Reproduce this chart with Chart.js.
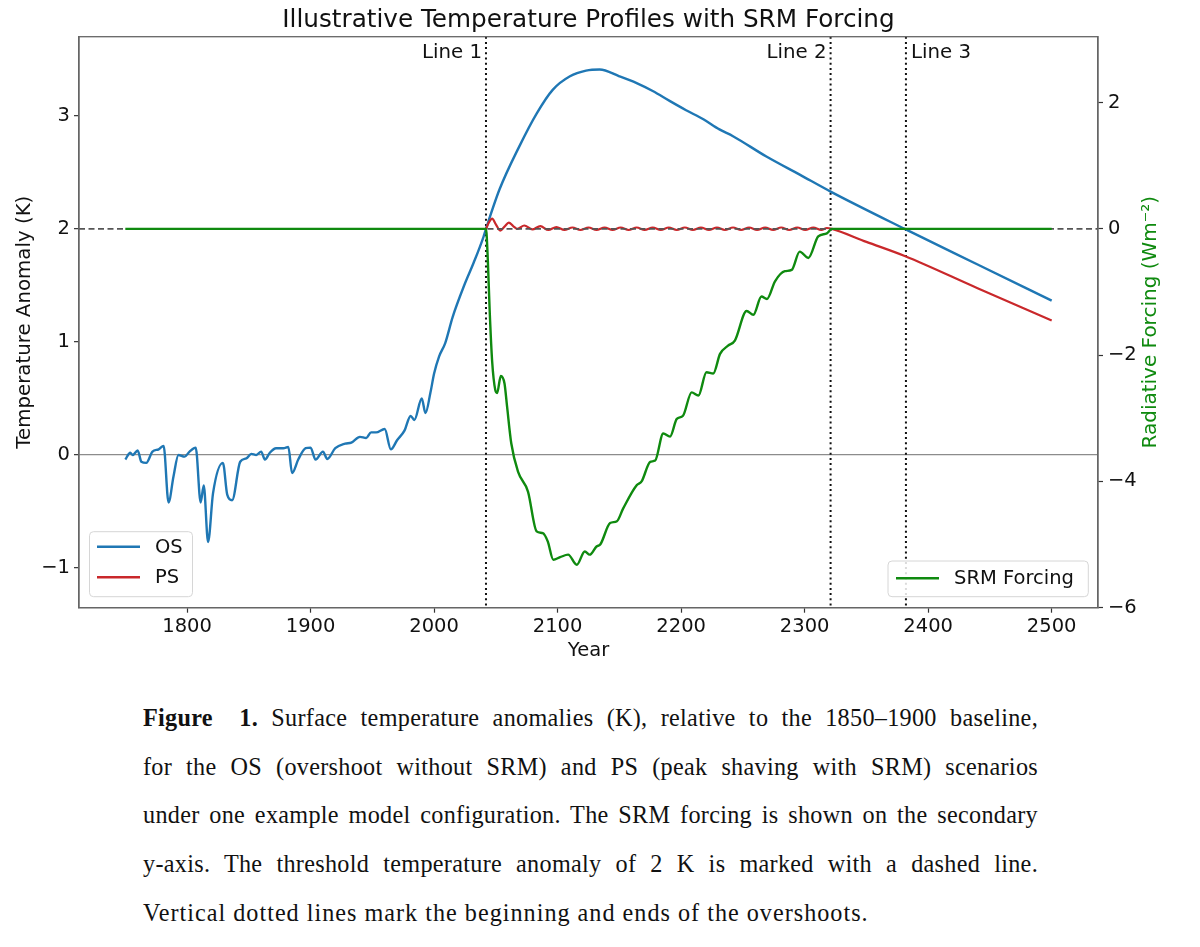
<!DOCTYPE html>
<html>
<head>
<meta charset="utf-8">
<script src="https://cdn.jsdelivr.net/npm/chart.js@4.4.0/dist/chart.umd.min.js"></script>
<style>
  html, body { margin: 0; padding: 0; background: #fff; }
  #wrap { position: absolute; left: 0; top: 0; width: 1200px; height: 680px; }
  #cap { position: absolute; left: 143px; top: 694px; width: 895px;
         font-family: "Liberation Serif", "Times New Roman", serif; font-size: 24.2px;
         letter-spacing: 0.3px; line-height: 48.7px; color: #111; }
  #cap div { text-align: justify; text-align-last: justify; }
  #cap div.last { text-align-last: left; letter-spacing: 1px; }
</style>
</head>
<body>
<div id="wrap"><canvas id="c"></canvas></div>
<div id="cap">
  <div><b>Figure&nbsp;&nbsp;1.</b> Surface temperature anomalies (K), relative to the 1850–1900 baseline,</div>
  <div>for the OS (overshoot without SRM) and PS (peak shaving with SRM) scenarios</div>
  <div>under one example model configuration. The SRM forcing is shown on the secondary</div>
  <div>y-axis. The threshold temperature anomaly of 2 K is marked with a dashed line.</div>
  <div class="last">Vertical dotted lines mark the beginning and ends of the overshoots.</div>
</div>
<script>
// ---------------- data ----------------
const xMin = 1712.5, xMax = 2537.5;
const yMin = -1.351, yMax = 3.70;
const rMin = -6, rMax = 3.044;
const threshold = 2;
const xTicks = [1800, 1900, 2000, 2100, 2200, 2300, 2400, 2500];
const yTicks = [-1, 0, 1, 2, 3];
const rTicks = [-6, -4, -2, 0, 2];

const osYears = [1750, 1754, 1756, 1760, 1763, 1767, 1772, 1777, 1781, 1785, 1789, 1793, 1798, 1802, 1807,
  1811, 1813.5, 1817, 1821, 1829, 1832.5, 1836.5, 1843, 1848, 1852, 1856, 1860, 1863, 1867, 1872, 1878,
  1882, 1885, 1890, 1896, 1900, 1904, 1910, 1913.5, 1920, 1928, 1933, 1940, 1945, 1949, 1953, 1960,
  1965, 1970, 1976, 1981, 1984, 1990, 1993, 1997, 2000, 2004, 2009, 2015, 2024, 2032, 2040, 2042,
  2053, 2069, 2083, 2096, 2110, 2123, 2134, 2150, 2164, 2177, 2191, 2204, 2218, 2231, 2242, 2269,
  2296, 2321, 2381, 2440, 2500];
const osValues = [-0.04, 0.02, 0.0, 0.04, -0.06, -0.07, 0.03, 0.05, 0.08, -0.42, -0.19, 0.0, -0.015, 0.03, 0.065,
  -0.42, -0.27, -0.77, -0.34, -0.07, -0.35, -0.40, -0.06, -0.03, 0.01, 0.0, 0.03, -0.04, 0.02, 0.06, 0.06,
  0.07, -0.16, -0.04, 0.06, 0.065, -0.04, 0.03, -0.035, 0.06, 0.10, 0.11, 0.16, 0.15, 0.20, 0.20, 0.23,
  0.05, 0.13, 0.215, 0.345, 0.31, 0.50, 0.37, 0.55, 0.72, 0.87, 0.99, 1.22, 1.49, 1.70, 1.93, 2.0,
  2.35, 2.73, 3.02, 3.23, 3.35, 3.40, 3.41, 3.35, 3.29, 3.22, 3.13, 3.05, 2.97, 2.88, 2.82, 2.64,
  2.48, 2.33, 2.0, 1.685, 1.365];

const psYears = [2042, 2044.5, 2047, 2050, 2053.5, 2057, 2060.5, 2064, 2067.5, 2073, 2079.5, 2086, 2092.5,
  2099, 2105.5, 2112, 2118.5, 2125, 2131.5, 2138, 2144.5, 2151, 2157.5, 2164, 2170.5, 2177, 2183.5,
  2190, 2196.5, 2203, 2209.5, 2216, 2222.5, 2229, 2235.5, 2242, 2248.5, 2255, 2261.5, 2268, 2274.5,
  2281, 2287.5, 2294, 2300.5, 2307, 2313.5, 2318, 2322, 2350, 2381, 2440, 2500];
const psValues = [2.00, 2.06, 2.09, 2.04, 1.985, 2.02, 2.055, 2.025, 2.0, 2.03, 1.995, 2.025, 1.99,
  2.015, 1.99, 2.012, 1.99, 2.012, 1.99, 2.012, 1.99, 2.012, 1.99, 2.012, 1.99, 2.012, 1.99,
  2.012, 1.99, 2.012, 1.99, 2.012, 1.99, 2.012, 1.99, 2.012, 1.99, 2.012, 1.99, 2.012, 1.99,
  2.012, 1.99, 2.012, 1.99, 2.012, 1.99, 2.008, 2.0, 1.885, 1.76, 1.475, 1.19];

const srmYears = [1750, 2042, 2043.5, 2045, 2047, 2049.5, 2051, 2054, 2057, 2059, 2062.5, 2068, 2076, 2083,
  2088, 2092, 2096.5, 2102, 2108.5, 2115.5, 2122, 2126, 2131.5, 2134.5, 2142.5, 2148, 2153, 2164, 2168,
  2175, 2179, 2185.5, 2191, 2196.5, 2201.5, 2208.5, 2214, 2220.5, 2226, 2231.5, 2238, 2243.5, 2253,
  2258.5, 2265, 2269.5, 2276, 2284, 2289.5, 2296, 2303, 2311, 2318, 2322, 2500];
const srmValues = [0, 0, -0.5, -1.3, -2.1, -2.55, -2.6, -2.33, -2.45, -2.8, -3.4, -3.85, -4.16, -4.79,
  -4.82, -4.95, -5.24, -5.2, -5.16, -5.32, -5.11, -5.16, -5.03, -5.0, -4.66, -4.63, -4.43, -4.06, -4.0,
  -3.69, -3.67, -3.24, -3.29, -3.01, -2.96, -2.59, -2.64, -2.27, -2.29, -1.98, -1.85, -1.77, -1.30,
  -1.36, -1.07, -1.11, -0.83, -0.67, -0.65, -0.36, -0.46, -0.12, -0.07, 0, 0];

const markerYears = [2042, 2321, 2382];
const markerLabels = ['Line 1', 'Line 2', 'Line 3'];

// ---------------- styling ----------------
const FONT = 'DejaVu Sans';
const C_OS = '#1f77b4', C_PS = '#c9282b', C_SRM = '#0f8a0f';
const toPts = (xs, ys) => xs.map((x, i) => ({ x: x, y: ys[i] }));
const minus = v => String(v).replace('-', '\u2212');

const overlay = {
  id: 'overlay',
  beforeDatasetsDraw(chart) {
    const { ctx, chartArea: a, scales } = chart;
    ctx.save();
    ctx.strokeStyle = '#111';
    ctx.lineWidth = 2;
    ctx.setLineDash([2, 3.2]);
    markerYears.forEach(yr => {
      const px = scales.x.getPixelForValue(yr);
      ctx.beginPath(); ctx.moveTo(px, a.top); ctx.lineTo(px, a.bottom); ctx.stroke();
    });
    ctx.restore();
  },
  afterDatasetsDraw(chart) {
    const { ctx, chartArea: a, scales } = chart;
    ctx.save();
    // frame
    ctx.strokeStyle = '#666'; ctx.lineWidth = 1.3; ctx.setLineDash([]);
    ctx.strokeRect(a.left, a.top, a.right - a.left, a.bottom - a.top);
    // marker labels
    ctx.font = '19.8px "' + FONT + '"';
    ctx.fillStyle = '#111';
    ctx.textBaseline = 'middle';
    markerYears.forEach((yr, i) => {
      const px = scales.x.getPixelForValue(yr);
      if (i < 2) { ctx.textAlign = 'right'; ctx.fillText(markerLabels[i], px - 4, a.top + 16.5); }
      else { ctx.textAlign = 'left'; ctx.fillText(markerLabels[i], px + 5, a.top + 16.5); }
    });
    // legends
    ctx.font = '19.5px "' + FONT + '"';
    const box = (x0, y0, x1, y1) => {
      ctx.beginPath();
      ctx.roundRect(x0, y0, x1 - x0, y1 - y0, 4);
      ctx.fillStyle = 'rgba(255,255,255,0.85)'; ctx.fill();
      ctx.strokeStyle = '#d6d6d6'; ctx.lineWidth = 1; ctx.stroke();
    };
    const entry = (x0, y, color, label) => {
      ctx.beginPath(); ctx.moveTo(x0, y); ctx.lineTo(x0 + 43, y);
      ctx.strokeStyle = color; ctx.lineWidth = 2.4; ctx.stroke();
      ctx.fillStyle = '#111'; ctx.textAlign = 'left'; ctx.textBaseline = 'middle';
      ctx.fillText(label, x0 + 58, y + 1);
    };
    box(a.left + 10.5, a.bottom - 76, a.left + 113.5, a.bottom - 11);
    entry(a.left + 18, a.bottom - 61, C_OS, 'OS');
    entry(a.left + 18, a.bottom - 30.5, C_PS, 'PS');
    box(a.right - 210, a.bottom - 46.7, a.right - 9.7, a.bottom - 11);
    entry(a.right - 202, a.bottom - 29.5, C_SRM, 'SRM Forcing');
    // right axis title
    ctx.translate(1151, (a.top + a.bottom) / 2);
    ctx.rotate(-Math.PI / 2);
    ctx.textAlign = 'center'; ctx.textBaseline = 'middle';
    ctx.fillStyle = C_SRM;
    ctx.font = '20px "' + FONT + '"';
    ctx.fillText('Radiative Forcing (Wm\u207B\u00B2)', 0, 0);
    ctx.restore();
  }
};

const tickFont = { family: FONT, size: 19.5 };

new Chart(document.getElementById('c'), {
  type: 'line',
  data: {
    datasets: [
      { label: 'OS', data: toPts(osYears, osValues), borderColor: C_OS, borderWidth: 2.4, yAxisID: 'y', order: 9 },
      { label: 'PS', data: toPts(psYears, psValues), borderColor: C_PS, borderWidth: 2.2, yAxisID: 'y', order: 8 },
      { label: 'threshold', data: [{ x: xMin, y: threshold }, { x: xMax, y: threshold }], borderColor: '#555',
        borderWidth: 1.6, borderDash: [6, 3.5], yAxisID: 'y', order: 7, cubicInterpolationMode: 'default', tension: 0 },
      { label: 'SRM Forcing', data: toPts(srmYears, srmValues), borderColor: C_SRM, borderWidth: 2.4, yAxisID: 'y2', order: 5 }
    ]
  },
  options: {
    responsive: true,
    maintainAspectRatio: false,
    animation: false,
    devicePixelRatio: 1,
    layout: { padding: 0 },
    elements: { point: { radius: 0 }, line: { cubicInterpolationMode: 'monotone', fill: false } },
    plugins: {
      legend: { display: false },
      tooltip: { enabled: false },
      title: { display: true, fullSize: false, text: 'Illustrative Temperature Profiles with SRM Forcing', color: '#111',
               font: { family: FONT, size: 24.7, weight: 'normal', lineHeight: 1 }, padding: { top: 8.5, bottom: 3.5 } }
    },
    scales: {
      x: {
        type: 'linear', position: 'bottom', min: xMin, max: xMax,
        afterBuildTicks: ax => { ax.ticks = xTicks.map(v => ({ value: v })); },
        afterFit: ax => { ax.height = 72.3; },
        ticks: { font: tickFont, color: '#111', padding: 3, maxRotation: 0, autoSkip: false, callback: v => String(v) },
        grid: { drawOnChartArea: false, tickLength: 5, tickColor: '#333', tickWidth: 1.2 },
        border: { display: true, color: '#666', width: 1.3 },
        title: { display: true, text: 'Year', color: '#111', font: { family: FONT, size: 19.5 }, padding: { top: 0, bottom: 17.5 } }
      },
      y: {
        type: 'linear', position: 'left', min: yMin, max: yMax,
        afterBuildTicks: ax => { ax.ticks = yTicks.map(v => ({ value: v })); },
        afterFit: ax => { ax.width = 79; },
        ticks: { font: tickFont, color: '#111', padding: 4, autoSkip: false, callback: v => minus(v) },
        grid: { drawOnChartArea: true, color: c => (c.tick && c.tick.value === 0) ? '#8c8c8c' : 'rgba(0,0,0,0)',
                lineWidth: 1.3, tickLength: 5, tickColor: '#333', tickWidth: 1.2 },
        border: { display: true, color: '#666', width: 1.3 },
        title: { display: true, text: 'Temperature Anomaly (K)', color: '#111', font: { family: FONT, size: 19.8 }, padding: { top: 13.3, bottom: 0 } }
      },
      y2: {
        type: 'linear', position: 'right', min: rMin, max: rMax,
        afterBuildTicks: ax => { ax.ticks = rTicks.map(v => ({ value: v })); },
        afterFit: ax => { ax.width = 102; },
        ticks: { font: tickFont, color: '#111', padding: 5, autoSkip: false, callback: v => minus(v) },
        grid: { drawOnChartArea: false, tickLength: 5, tickColor: '#333', tickWidth: 1.2 },
        border: { display: true, color: '#666', width: 1.3 }
      }
    }
  },
  plugins: [overlay]
});
</script>
</body>
</html>
